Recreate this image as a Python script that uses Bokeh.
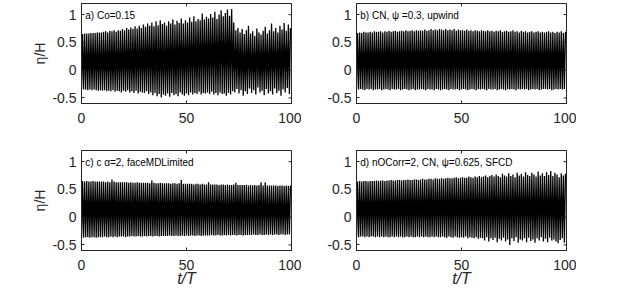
import math
from bokeh.plotting import figure
from bokeh.models import Range1d, FixedTicker, Label, CustomJSTickFormatter
from bokeh.layouts import gridplot
from bokeh.embed import file_html
from bokeh.resources import INLINE

# ---- data: crest / trough elevation (eta/H) of each wave period, t/T = 0..99 ----
crest_a = [0.65,0.66,0.66,0.66,0.67,0.67,0.67,0.68,0.68,0.68,
           0.69,0.70,0.68,0.71,0.70,0.72,0.69,0.72,0.71,0.74,
           0.72,0.76,0.73,0.77,0.74,0.79,0.75,0.80,0.76,0.82,
           0.78,0.84,0.80,0.86,0.79,0.88,0.81,0.90,0.83,0.86,
           0.80,0.88,0.84,0.91,0.82,0.89,0.85,0.93,0.84,0.90,
           0.86,0.95,0.87,0.97,0.88,0.92,0.90,1.02,0.91,0.96,
           0.93,1.01,0.95,1.05,0.92,1.00,1.08,0.97,1.03,1.09,
           0.98,1.10,0.86,0.72,0.76,0.68,0.74,0.65,0.72,0.80,
           0.66,0.70,0.62,0.75,0.68,0.64,0.71,0.78,0.66,0.72,
           0.84,0.70,0.76,0.68,0.80,0.73,0.85,0.71,0.82,0.76]
trough_a = [-0.34,-0.35,-0.35,-0.36,-0.35,-0.36,-0.35,-0.36,-0.37,-0.36,
            -0.37,-0.36,-0.38,-0.37,-0.38,-0.36,-0.39,-0.37,-0.38,-0.40,
            -0.37,-0.39,-0.36,-0.40,-0.38,-0.41,-0.37,-0.42,-0.39,-0.40,
            -0.41,-0.38,-0.43,-0.40,-0.45,-0.41,-0.47,-0.43,-0.49,-0.44,
            -0.46,-0.42,-0.48,-0.41,-0.45,-0.43,-0.47,-0.40,-0.44,-0.46,
            -0.42,-0.45,-0.40,-0.44,-0.41,-0.43,-0.39,-0.44,-0.41,-0.42,
            -0.40,-0.43,-0.39,-0.44,-0.41,-0.45,-0.40,-0.43,-0.42,-0.46,
            -0.41,-0.44,-0.38,-0.40,-0.34,-0.42,-0.36,-0.46,-0.38,-0.43,
            -0.33,-0.41,-0.36,-0.44,-0.31,-0.40,-0.37,-0.45,-0.34,-0.42,
            -0.38,-0.44,-0.33,-0.41,-0.37,-0.46,-0.35,-0.40,-0.32,-0.43]

crest_b = [0.67,0.68,0.67,0.69,0.68,0.68,0.69,0.68,0.70,0.69,
           0.69,0.70,0.68,0.70,0.69,0.71,0.69,0.70,0.71,0.69,
           0.70,0.71,0.70,0.72,0.70,0.71,0.72,0.70,0.72,0.71,
           0.72,0.71,0.73,0.71,0.72,0.74,0.72,0.73,0.72,0.74,
           0.73,0.72,0.74,0.72,0.73,0.72,0.74,0.71,0.73,0.72,
           0.72,0.71,0.73,0.71,0.72,0.70,0.72,0.71,0.70,0.72,
           0.71,0.70,0.72,0.70,0.71,0.69,0.71,0.70,0.72,0.69,
           0.70,0.71,0.69,0.70,0.72,0.69,0.70,0.68,0.71,0.69,
           0.70,0.68,0.69,0.70,0.68,0.69,0.70,0.68,0.69,0.68,
           0.69,0.70,0.68,0.69,0.67,0.69,0.68,0.70,0.67,0.69]
trough_b = [-0.34,-0.35,-0.34,-0.35,-0.36,-0.34,-0.35,-0.34,-0.36,-0.35,
            -0.35,-0.34,-0.36,-0.35,-0.34,-0.35,-0.36,-0.34,-0.35,-0.35,
            -0.34,-0.36,-0.35,-0.34,-0.35,-0.36,-0.35,-0.34,-0.36,-0.35,
            -0.35,-0.34,-0.35,-0.36,-0.34,-0.35,-0.35,-0.36,-0.34,-0.35,
            -0.36,-0.35,-0.34,-0.35,-0.36,-0.34,-0.35,-0.35,-0.34,-0.36,
            -0.35,-0.34,-0.35,-0.36,-0.35,-0.34,-0.35,-0.36,-0.34,-0.35,
            -0.34,-0.35,-0.36,-0.34,-0.35,-0.35,-0.34,-0.36,-0.35,-0.34,
            -0.35,-0.36,-0.34,-0.35,-0.34,-0.35,-0.36,-0.34,-0.35,-0.34,
            -0.35,-0.34,-0.36,-0.35,-0.34,-0.35,-0.34,-0.36,-0.35,-0.34,
            -0.34,-0.35,-0.34,-0.36,-0.35,-0.34,-0.35,-0.34,-0.35,-0.34]

crest_c = [0.65,0.64,0.65,0.64,0.64,0.65,0.64,0.64,0.64,0.64,
           0.64,0.63,0.64,0.63,0.68,0.64,0.63,0.63,0.63,0.63,
           0.63,0.63,0.62,0.63,0.62,0.62,0.63,0.62,0.62,0.62,
           0.62,0.62,0.61,0.66,0.62,0.61,0.61,0.62,0.61,0.61,
           0.61,0.61,0.60,0.61,0.61,0.60,0.61,0.67,0.60,0.60,
           0.60,0.60,0.60,0.59,0.60,0.60,0.59,0.60,0.59,0.59,
           0.63,0.59,0.59,0.59,0.59,0.58,0.59,0.59,0.58,0.59,
           0.58,0.58,0.59,0.62,0.58,0.58,0.58,0.58,0.58,0.57,
           0.58,0.57,0.58,0.57,0.58,0.63,0.57,0.63,0.57,0.57,
           0.57,0.57,0.57,0.56,0.57,0.57,0.56,0.57,0.56,0.57]
trough_c = [-0.36,-0.37,-0.36,-0.36,-0.37,-0.36,-0.36,-0.37,-0.36,-0.36,
            -0.36,-0.35,-0.36,-0.36,-0.35,-0.36,-0.35,-0.36,-0.35,-0.35,
            -0.35,-0.36,-0.35,-0.35,-0.34,-0.35,-0.35,-0.34,-0.35,-0.35,
            -0.34,-0.35,-0.34,-0.34,-0.35,-0.34,-0.34,-0.35,-0.34,-0.34,
            -0.34,-0.34,-0.33,-0.34,-0.34,-0.33,-0.34,-0.34,-0.33,-0.34,
            -0.33,-0.34,-0.33,-0.33,-0.34,-0.33,-0.33,-0.34,-0.33,-0.33,
            -0.33,-0.33,-0.32,-0.33,-0.33,-0.32,-0.33,-0.33,-0.32,-0.33,
            -0.32,-0.33,-0.32,-0.32,-0.33,-0.32,-0.32,-0.33,-0.32,-0.32,
            -0.32,-0.32,-0.31,-0.32,-0.32,-0.31,-0.32,-0.32,-0.31,-0.32,
            -0.31,-0.32,-0.31,-0.31,-0.32,-0.31,-0.31,-0.32,-0.31,-0.31]

crest_d = [0.64,0.65,0.64,0.65,0.65,0.64,0.65,0.65,0.65,0.66,
           0.65,0.66,0.66,0.65,0.66,0.66,0.67,0.66,0.66,0.67,
           0.67,0.66,0.67,0.67,0.68,0.67,0.67,0.68,0.68,0.67,
           0.68,0.69,0.68,0.68,0.69,0.69,0.68,0.70,0.69,0.69,
           0.70,0.69,0.70,0.71,0.70,0.70,0.71,0.72,0.70,0.71,
           0.72,0.71,0.71,0.73,0.72,0.71,0.73,0.72,0.74,0.72,
           0.73,0.75,0.72,0.74,0.76,0.73,0.77,0.74,0.72,0.78,
           0.75,0.73,0.79,0.74,0.77,0.72,0.80,0.75,0.78,0.73,
           0.81,0.76,0.74,0.80,0.77,0.73,0.82,0.75,0.79,0.74,
           0.81,0.76,0.83,0.74,0.80,0.77,0.72,0.79,0.75,0.78]
trough_d = [-0.35,-0.36,-0.35,-0.35,-0.36,-0.35,-0.36,-0.35,-0.35,-0.36,
            -0.35,-0.36,-0.35,-0.36,-0.35,-0.36,-0.36,-0.35,-0.36,-0.35,
            -0.36,-0.35,-0.36,-0.36,-0.35,-0.36,-0.35,-0.36,-0.36,-0.35,
            -0.36,-0.35,-0.36,-0.35,-0.36,-0.36,-0.35,-0.36,-0.35,-0.36,
            -0.36,-0.35,-0.36,-0.37,-0.35,-0.36,-0.37,-0.35,-0.36,-0.37,
            -0.36,-0.37,-0.35,-0.38,-0.36,-0.37,-0.38,-0.36,-0.39,-0.37,
            -0.38,-0.42,-0.36,-0.44,-0.38,-0.41,-0.37,-0.45,-0.39,-0.42,
            -0.37,-0.44,-0.40,-0.50,-0.38,-0.43,-0.36,-0.46,-0.40,-0.42,
            -0.38,-0.45,-0.37,-0.43,-0.40,-0.46,-0.38,-0.42,-0.36,-0.44,
            -0.39,-0.45,-0.37,-0.42,-0.40,-0.44,-0.47,-0.41,-0.38,-0.46]

labels = ["a) Co=0.15",
          "b) CN, \u03c8 =0.3, upwind",
          "c) c \u03b1=2, faceMDLimited",
          "d) nOCorr=2, CN, \u03c8=0.625, SFCD"]
x_ticks = [0, 50, 100]
y_ticks = [-0.5, 0, 0.5, 1]
x_lim = (0, 100)
y_lim = (-0.6, 1.2)

FONT = "Liberation Sans"
AX = "#262626"


def style_axis(ax, ticks):
    ax.ticker = FixedTicker(ticks=ticks)
    ax.formatter = CustomJSTickFormatter(code="return tick.toString();")
    ax.major_tick_in = 3
    ax.major_tick_out = 0
    ax.minor_tick_in = 0
    ax.minor_tick_out = 0
    ax.axis_line_color = AX
    ax.major_tick_line_color = AX
    ax.major_label_text_font = FONT
    ax.major_label_text_color = AX
    ax.major_label_text_font_size = "14px"


def panel(crest, trough, text, left, top, bottom, xlabel, ylabel):
    p = figure(frame_width=210, frame_height=100,
               x_range=Range1d(*x_lim), y_range=Range1d(*y_lim),
               output_backend="svg", toolbar_location=None,
               min_border_left=left, min_border_right=10,
               min_border_top=top, min_border_bottom=bottom)
    t, eta = [], []
    for i, (tr, cr) in enumerate(zip(trough, crest)):
        t += [i, i + 0.5]
        eta += [tr, cr]
    p.line(t, eta, line_color="black", line_width=1.3)

    p.grid.visible = False
    p.outline_line_color = AX
    p.outline_line_width = 1

    xa = p.below[0]
    ya = p.left[0]
    style_axis(xa, x_ticks)
    style_axis(ya, y_ticks)
    xa.major_label_standoff = 9
    ya.major_label_standoff = 5

    # box ticks on the top and right edges (inward, like the bottom/left ones)
    p.scatter(x=x_ticks, y=[y_lim[1]] * len(x_ticks), marker="dash",
              angle=math.pi / 2, size=6, line_color=AX, line_width=1)
    p.scatter(x=[x_lim[1]] * len(y_ticks), y=y_ticks, marker="dash",
              size=6, line_color=AX, line_width=1)

    if xlabel:
        xa.axis_label = "t/T"
        xa.axis_label_text_font = FONT
        xa.axis_label_text_font_style = "italic"
        xa.axis_label_text_font_size = "16px"
        xa.axis_label_text_color = AX
        xa.axis_label_standoff = -3
    if ylabel:
        ya.axis_label = "\u03b7/H"
        ya.axis_label_text_font = FONT
        ya.axis_label_text_font_style = "normal"
        ya.axis_label_text_font_size = "14px"
        ya.axis_label_text_color = AX
        ya.axis_label_standoff = 1

    p.add_layout(Label(x=1.8, y=0.98, text=text, text_font=FONT,
                       text_font_size="10px", text_baseline="middle",
                       text_color="black"))
    return p


pa = panel(crest_a, trough_a, labels[0], 81, 3, 40, False, True)
pb = panel(crest_b, trough_b, labels[1], 55, 3, 40, False, False)
pc = panel(crest_c, trough_c, labels[2], 81, 7, 34, True, True)
pd = panel(crest_d, trough_d, labels[3], 55, 7, 34, True, False)

grid = gridplot([[pa, pb], [pc, pd]], toolbar_location=None)

open("out.html", "w").write(file_html(grid, INLINE))
